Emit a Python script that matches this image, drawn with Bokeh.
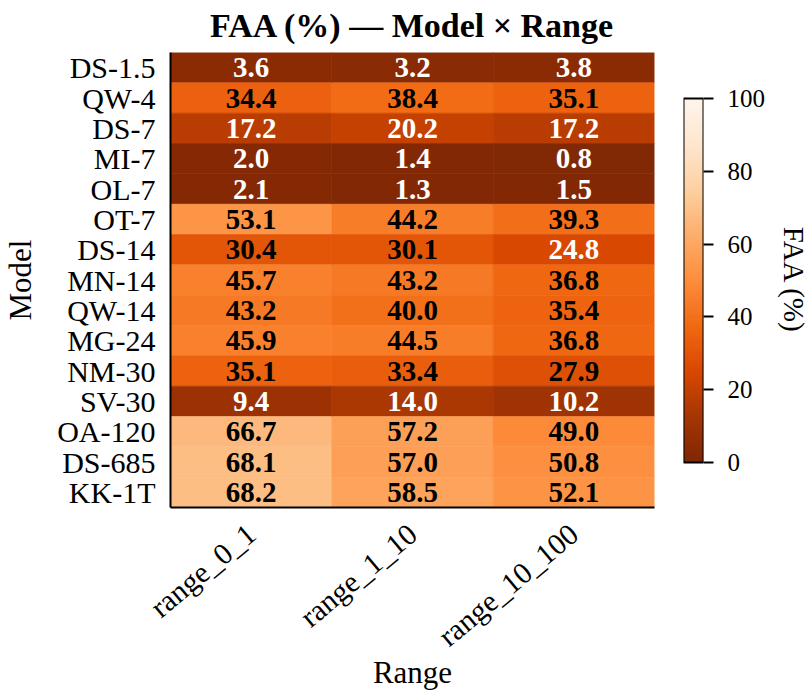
import numpy as np
from bokeh.plotting import figure
from bokeh.models import ColumnDataSource, LinearColorMapper, FixedTicker, FactorRange, Range1d
from bokeh.layouts import row
from bokeh.transform import transform
from bokeh.core.properties import value
from bokeh.palettes import Oranges9
from bokeh.embed import file_html
from bokeh.resources import INLINE

models = ["DS-1.5", "QW-4", "DS-7", "MI-7", "OL-7", "OT-7", "DS-14", "MN-14",
          "QW-14", "MG-24", "NM-30", "SV-30", "OA-120", "DS-685", "KK-1T"]
ranges = ["range_0_1", "range_1_10", "range_10_100"]

range_0_1 = [3.6, 34.4, 17.2, 2.0, 2.1, 53.1, 30.4, 45.7, 43.2, 45.9, 35.1, 9.4, 66.7, 68.1, 68.2]
range_1_10 = [3.2, 38.4, 20.2, 1.4, 1.3, 44.2, 30.1, 43.2, 40.0, 44.5, 33.4, 14.0, 57.2, 57.0, 58.5]
range_10_100 = [3.8, 35.1, 17.2, 0.8, 1.5, 39.3, 24.8, 36.8, 35.4, 36.8, 27.9, 10.2, 49.0, 50.8, 52.1]

cbar_ticks = [0, 20, 40, 60, 80, 100]
cbar_low, cbar_high = 0, 100

FONT = "Liberation Serif"

# shared vertical frame geometry (px)
TOP, BOTTOM, FRAME_H = 52, 185, 456
# the colour bar covers the middle of that height
CB_TOP_GAP, CB_BOTTOM_GAP = 46, 45


def smooth_palette(anchors, n=256):
    """Linearly interpolate hex anchor colours into an n-step palette."""
    rgb = np.array([[int(c[i:i + 2], 16) for i in (1, 3, 5)] for c in anchors], dtype=float)
    pos = np.linspace(0, 1, len(anchors))
    t = np.linspace(0, 1, n)
    out = np.stack([np.interp(t, pos, rgb[:, k]) for k in range(3)], axis=1)
    return ["#%02x%02x%02x" % tuple(int(round(v)) for v in c) for c in out]


palette = smooth_palette(Oranges9)  # dark (low) -> light (high)
mapper = LinearColorMapper(palette=palette, low=cbar_low, high=cbar_high)

# long-form table for the cells
xs, ys, vals = [], [], []
for col_name, col_vals in zip(ranges, [range_0_1, range_1_10, range_10_100]):
    for m, v in zip(models, col_vals):
        xs.append(col_name)
        ys.append(m)
        vals.append(v)
src = ColumnDataSource(dict(
    x=xs, y=ys, v=vals,
    label=["%.1f" % v for v in vals],
    tcol=["white" if v < 25 else "black" for v in vals],
))

p = figure(
    width=660, height=693,
    x_range=FactorRange(*ranges), y_range=FactorRange(*reversed(models)),
    output_backend="svg", toolbar_location=None,
    min_border_left=170, min_border_right=6, min_border_top=0, min_border_bottom=BOTTOM,
)
p.rect(x="x", y="y", width=1, height=1, source=src,
       fill_color=transform("v", mapper), line_color=transform("v", mapper), line_width=0.6)
p.text(x="x", y="y", text="label", source=src, text_color="tcol",
       text_align="center", text_baseline="middle",
       text_font=value(FONT), text_font_style="bold", text_font_size="29px")

p.title.text = "FAA (%) \u2014 Model \u00d7 Range"
p.title.align = "center"
p.title.vertical_align = "top"
p.title.text_font = FONT
p.title.text_font_size = "34px"
p.title.text_font_style = "bold"
p.title.text_color = "black"
p.title.text_line_height = 1.0
p.title.standoff = 13

p.outline_line_color = None
p.grid.visible = False
for ax in (p.xaxis, p.yaxis):
    ax.axis_line_width = 2
    ax.axis_line_color = "black"
    ax.major_tick_line_color = None
    ax.minor_tick_line_color = None
    ax.major_label_text_font = FONT
    ax.major_label_text_font_size = "30px"
    ax.major_label_text_color = "black"
    ax.axis_label_text_font = FONT
    ax.axis_label_text_font_size = "31px"
    ax.axis_label_text_font_style = "normal"
    ax.axis_label_text_color = "black"
p.xaxis.axis_label = "Range"
p.yaxis.axis_label = "Model"
p.xaxis.major_label_orientation = np.deg2rad(40)
p.yaxis.major_label_standoff = 9
p.yaxis.axis_label_standoff = 16
p.xaxis.major_label_standoff = 16
p.xaxis.axis_label_standoff = -13

# colour bar as its own small panel; the y range is padded so that
# 0..100 covers only the middle part of the shared frame height
span = cbar_high - cbar_low
px_per_unit = (FRAME_H - CB_TOP_GAP - CB_BOTTOM_GAP) / span
cb = figure(
    frame_width=20, height=693,
    x_range=Range1d(0, 1),
    y_range=Range1d(cbar_low - CB_BOTTOM_GAP / px_per_unit, cbar_high + CB_TOP_GAP / px_per_unit),
    y_axis_location="right",
    output_backend="svg", toolbar_location=None,
    min_border_left=23, min_border_right=0, min_border_top=TOP, min_border_bottom=BOTTOM,
)
grad = np.linspace(cbar_low, cbar_high, 256).reshape(-1, 1)
cb.image(image=[grad], x=0, y=cbar_low, dw=1, dh=span, color_mapper=mapper)
cb.quad(left=0, right=1, bottom=cbar_low, top=cbar_high,
        fill_color=None, line_color="black", line_width=2)
cb.xaxis.visible = False
cb.grid.visible = False
cb.outline_line_color = None
ya = cb.yaxis[0]
ya.ticker = FixedTicker(ticks=cbar_ticks)
ya.axis_line_color = None
ya.major_tick_out = 10
ya.major_tick_in = 0
ya.major_tick_line_width = 2
ya.minor_tick_line_color = None
ya.major_label_standoff = 14
ya.major_label_text_font = FONT
ya.major_label_text_font_size = "25px"
ya.major_label_text_color = "black"
ya.axis_label = "FAA (%)"
ya.axis_label_text_font = FONT
ya.axis_label_text_font_size = "29px"
ya.axis_label_text_font_style = "normal"
ya.axis_label_text_color = "black"
ya.axis_label_standoff = 10

layout = row(p, cb)
open("out.html", "w").write(file_html(layout, INLINE))
